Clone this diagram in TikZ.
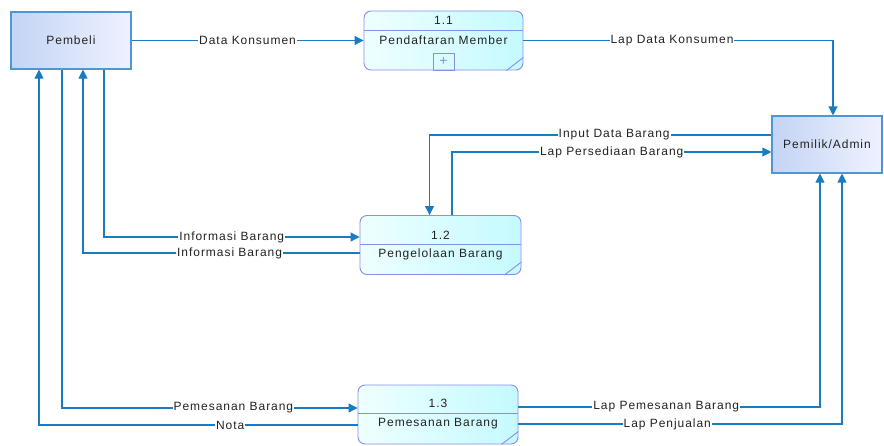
\documentclass[tikz,border=0pt]{standalone}
\usepackage{fontspec}
\setmainfont{Liberation Sans}[LetterSpace=8]
\usetikzlibrary{arrows.meta}

\definecolor{flowblue}{RGB}{24,124,192}
\definecolor{entline}{RGB}{80,150,210}
\definecolor{entdark}{RGB}{196,212,244}
\definecolor{entlight}{RGB}{238,242,255}
\definecolor{procline}{RGB}{140,140,238}
\definecolor{proclight}{RGB}{238,255,255}
\definecolor{procdark}{RGB}{196,250,255}
\definecolor{txt}{RGB}{35,35,35}

\tikzset{
  dfdfont/.style={text=txt, font=\fontsize{12}{14}\selectfont},
  entity/.style={draw=entline, line width=1.1pt, left color=entdark, right color=entlight,
    minimum width=120pt, minimum height=57pt, dfdfont},
  proc/.style={draw=procline, line width=0.9pt, rounded corners=7pt, left color=proclight,
    right color=procdark, minimum width=160pt, minimum height=59pt},
  ptext/.style={inner sep=1pt, dfdfont},
  flow/.style={draw=flowblue, line width=1.1pt},
  flowtip/.style={-{Triangle[length=9pt,width=9pt]}},
  lbl/.style={fill=white, inner sep=1pt, dfdfont}
}

\begin{document}
\begin{tikzpicture}[x=1pt, y=-1pt]
	\useasboundingbox (0,0) rectangle (884,445);
	% external entities
	\node[entity] (pembeli) at (71,40.5) {Pembeli};
	\node[entity, minimum width=110pt] (admin) at (827,144.5) {Pemilik/Admin};
	
	% processes
	\node[proc, minimum width=159pt] (p11) at (443.5,40.5) {};
	\node[proc, minimum width=161pt] (p12) at (440.5,245) {};
	\node[proc] (p13) at (438,414.5) {};
	
	\draw[procline, line width=0.9pt] ([yshift=-20pt]p11.north west) -- ([yshift=-20pt]p11.north east);
	\node[ptext] (p11num) at ([yshift=-10pt]p11.north) {1.1};
	\node[ptext] (p11name) at ([yshift=-30pt]p11.north) {Pendaftaran Member};
	\node[draw=procline, line width=0.9pt, minimum width=21pt, minimum height=17pt, inner sep=0pt,
	  text=procline, font=\fontsize{14}{14}\selectfont] (p11sub) at ([yshift=8.5pt]p11.south) {+};
	
	\draw[procline, line width=0.9pt] ([yshift=-29pt]p12.north west) -- ([yshift=-29pt]p12.north east);
	\node[ptext] (p12num) at ([yshift=-20pt]p12.north) {1.2};
	\node[ptext] (p12name) at ([yshift=-39pt]p12.north) {Pengelolaan Barang};
	
	\draw[procline, line width=0.9pt] ([yshift=-29pt]p13.north west) -- ([yshift=-29pt]p13.north east);
	\node[ptext] (p13num) at ([yshift=-19pt]p13.north) {1.3};
	\node[ptext] (p13name) at ([yshift=-39pt]p13.north) {Pemesanan Barang};
	
	\foreach \p in {p11,p12,p13}
	  \draw[procline, line width=0.9pt] ([xshift=-17pt]\p.south east) -- ([yshift=13pt]\p.south east);
	
	% data flows
	\draw[flow, flowtip] (pembeli) -- (p11) node[lbl, midway] {Data Konsumen};
	\draw[flow, flowtip] (p11) -| ([xshift=6pt]admin.north) node[lbl, pos=0.24] {Lap Data Konsumen};
	\draw[flow, flowtip] ([yshift=9.5pt]admin.west) -| ([xshift=-11pt]p12.north) node[lbl, pos=0.23] {Input Data Barang};
	\draw[flow, flowtip] ([xshift=11.5pt]p12.north) |- ([yshift=-7.5pt]admin.west) node[lbl, pos=0.75] {Lap Persediaan Barang};
	\draw[flow, flowtip] ([xshift=33pt]pembeli.south) |- ([yshift=8pt]p12.west) node[lbl, pos=0.75] {Informasi Barang};
	\draw[flow, flowtip] ([yshift=-8pt]p12.west) -| ([xshift=12pt]pembeli.south) node[lbl, pos=0.235] {Informasi Barang};
	\draw[flow, flowtip] ([xshift=-9pt]pembeli.south) |- ([yshift=6.5pt]p13.west) node[lbl, pos=0.79] {Pemesanan Barang};
	\draw[flow, flowtip] ([yshift=-10.5pt]p13.west) -| ([xshift=-32pt]pembeli.south) node[lbl, pos=0.2] {Nota};
	\draw[flow, flowtip] ([yshift=7.5pt]p13.east) -| ([xshift=-7pt]admin.south) node[lbl, pos=0.245] {Lap Pemesanan Barang};
	\draw[flow, flowtip] ([yshift=-9.5pt]p13.east) -| ([xshift=15pt]admin.south) node[lbl, pos=0.23] {Lap Penjualan};
\end{tikzpicture}
\end{document}
